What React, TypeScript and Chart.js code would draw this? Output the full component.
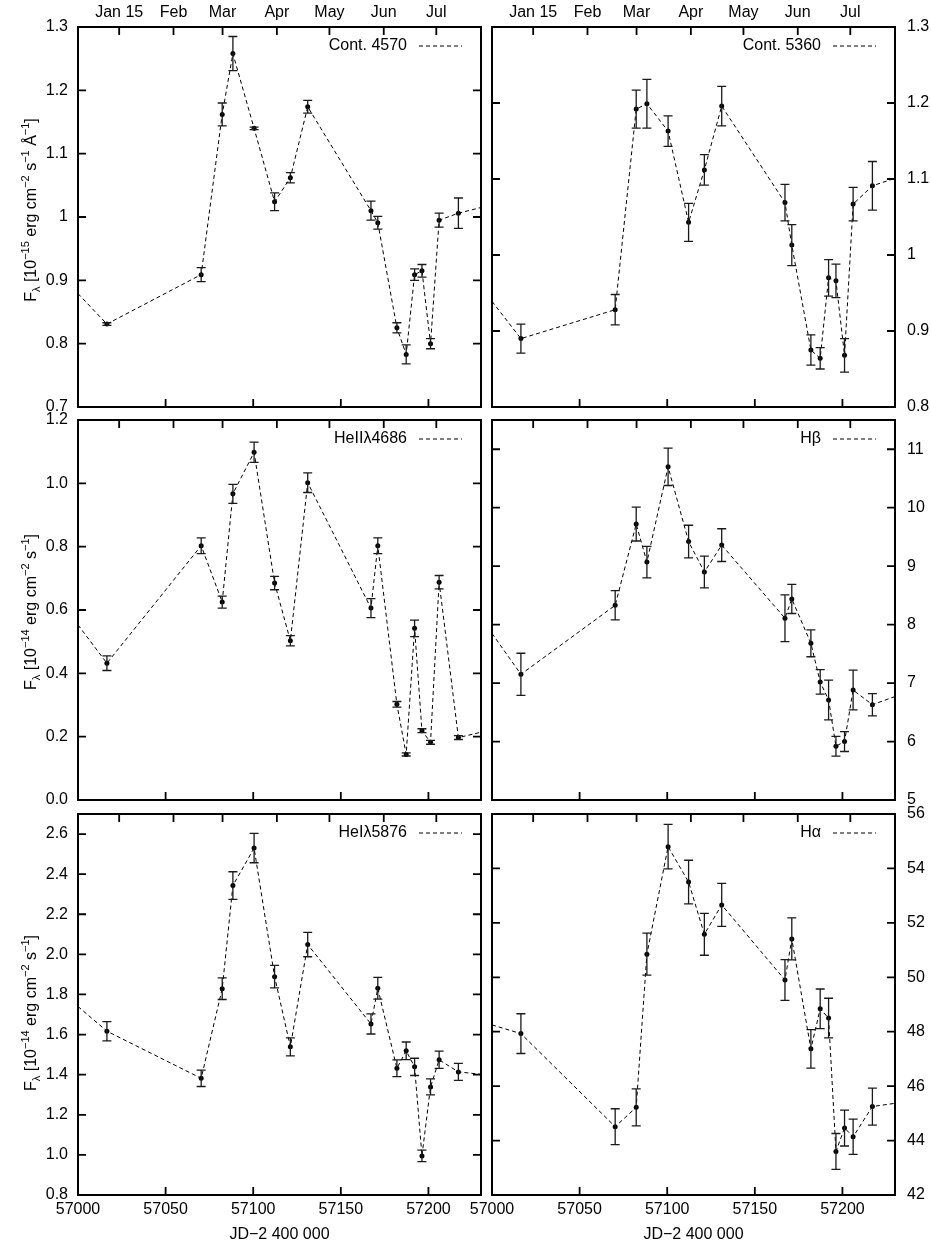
import { useEffect, useRef } from "react";
import { Chart, registerables } from "chart.js";

Chart.register(...registerables);

// epochs of the spectra, JD - 2 400 000
const jd = [
  57016.5, 57070.3, 57082.3, 57088.4, 57100.5, 57112.2, 57121.2, 57131.1, 57167.2,
  57171.1, 57182.0, 57187.3, 57192.1, 57196.3, 57201.2, 57206.1, 57217.1,
];

// continuum 4570 (1e-15 erg cm-2 s-1 A-1)
const cont4570 = [0.831, 0.909, 1.162, 1.258, 1.14, 1.024, 1.062, 1.174, 1.01, 0.991, 0.825, 0.783, 0.909, 0.915, 0.8, 0.995, 1.006];
const cont4570Err = [0.002, 0.011, 0.018, 0.027, 0.002, 0.014, 0.008, 0.01, 0.015, 0.01, 0.008, 0.015, 0.009, 0.01, 0.008, 0.011, 0.024];
const cont4570Edge = [0.879, 1.015]; // where the dashed curve meets the frame

const cont5360 = [0.89, 0.928, 1.192, 1.199, 1.163, 1.043, 1.112, 1.196, 1.069, 1.013, 0.875, 0.864, 0.97, 0.966, 0.868, 1.067, 1.091];
const cont5360Err = [0.019, 0.02, 0.025, 0.032, 0.02, 0.025, 0.02, 0.026, 0.024, 0.027, 0.02, 0.014, 0.024, 0.022, 0.022, 0.022, 0.032];
const cont5360Edge = [0.939, 1.101];

// lines (1e-14 erg cm-2 s-1)
const heII4686 = [0.432, 0.803, 0.625, 0.967, 1.098, 0.685, 0.503, 1.002, 0.606, 0.803, 0.302, 0.144, 0.542, 0.219, 0.182, 0.688, 0.197];
const heII4686Err = [0.023, 0.025, 0.019, 0.03, 0.032, 0.021, 0.016, 0.031, 0.03, 0.025, 0.009, 0.005, 0.026, 0.006, 0.006, 0.021, 0.006];
const heII4686Edge = [0.553, 0.214];

const hBeta = [7.15, 8.33, 9.72, 9.07, 10.7, 9.42, 8.9, 9.36, 8.11, 8.44, 7.68, 7.02, 6.71, 5.92, 6.0, 6.88, 6.63];
const hBetaErr = [0.36, 0.25, 0.29, 0.27, 0.32, 0.28, 0.27, 0.28, 0.4, 0.25, 0.23, 0.21, 0.34, 0.17, 0.17, 0.34, 0.19];
const hBetaEdge = [7.85, 6.77];

const heI5876 = [1.617, 1.382, 1.829, 2.343, 2.53, 1.889, 1.539, 2.049, 1.653, 1.831, 1.432, 1.519, 1.439, 0.995, 1.339, 1.474, 1.414];
const heI5876Err = [0.048, 0.041, 0.054, 0.069, 0.073, 0.056, 0.045, 0.061, 0.05, 0.054, 0.042, 0.044, 0.043, 0.029, 0.04, 0.043, 0.042];
const heI5876Edge = [1.74, 1.402];

const hAlpha = [47.93, 44.51, 45.22, 50.85, 54.8, 53.5, 51.58, 52.66, 49.9, 51.41, 47.37, 48.84, 48.5, 43.6, 44.46, 44.14, 45.25];
const hAlphaErr = [0.73, 0.66, 0.68, 0.77, 0.82, 0.8, 0.77, 0.79, 0.75, 0.77, 0.71, 0.73, 0.73, 0.66, 0.66, 0.65, 0.68];
const hAlphaEdge = [48.25, 45.37];

// axes
const X_MIN = 57000;
const X_MAX = 57230;
const jdTicks = [57000, 57050, 57100, 57150, 57200];
const monthTicks = [57023.5, 57054.5, 57082.5, 57113.5, 57143.5, 57174.5, 57204.5];
const monthLabels = ["Jan 15", "Feb", "Mar", "Apr", "May", "Jun", "Jul"];
const contTicks = [0.7, 0.8, 0.9, 1, 1.1, 1.2, 1.3];
const heIITicks = [0, 0.2, 0.4, 0.6, 0.8, 1.0, 1.2];
const hBetaTicks = [5, 6, 7, 8, 9, 10, 11];
const heITicks = [0.8, 1.0, 1.2, 1.4, 1.6, 1.8, 2.0, 2.2, 2.4, 2.6];
const hAlphaTicks = [42, 44, 46, 48, 50, 52, 54, 56];

// page layout
const W = 931;
const H = 1247;
const COL_X = [[78, 481], [492, 895]];
const ROW_Y = [[27, 407], [420, 800], [814, 1195]];
const Y_TITLE_CY = [210, 612, 1013];
const HB = 30; // bottom axis box
const MONTH_BASE = 17; // baseline of the month labels
const TICK = 8;
const CAP = 4.5;
const FONT = "'Liberation Sans', Arial, Helvetica, sans-serif";

type Run = [string, number]; // text, 0 normal / 1 sup / -1 sub

const title15: Run[] = [
  ["F", 0], ["λ", -1], [" [10", 0], ["−15", 1], [" erg cm", 0], ["−2", 1],
  [" s", 0], ["−1", 1], [" Å", 0], ["−1", 1], ["]", 0],
];
const title14: Run[] = [
  ["F", 0], ["λ", -1], [" [10", 0], ["−14", 1], [" erg cm", 0], ["−2", 1],
  [" s", 0], ["−1", 1], ["]", 0],
];

type PanelSpec = {
  label: string;
  values: number[];
  errs: number[];
  edge: number[];
  yMin: number;
  yMax: number;
  yTicks: number[];
  digits: number; // -1: plain
  col: number;
  row: number;
  title?: Run[];
};

const panels: PanelSpec[] = [
  { label: "Cont. 4570", values: cont4570, errs: cont4570Err, edge: cont4570Edge, yMin: 0.7, yMax: 1.3, yTicks: contTicks, digits: -1, col: 0, row: 0, title: title15 },
  { label: "Cont. 5360", values: cont5360, errs: cont5360Err, edge: cont5360Edge, yMin: 0.8, yMax: 1.3, yTicks: contTicks.slice(1), digits: -1, col: 1, row: 0 },
  { label: "HeIIλ4686", values: heII4686, errs: heII4686Err, edge: heII4686Edge, yMin: 0, yMax: 1.2, yTicks: heIITicks, digits: 1, col: 0, row: 1, title: title14 },
  { label: "Hβ", values: hBeta, errs: hBetaErr, edge: hBetaEdge, yMin: 5, yMax: 11.5, yTicks: hBetaTicks, digits: 0, col: 1, row: 1 },
  { label: "HeIλ5876", values: heI5876, errs: heI5876Err, edge: heI5876Edge, yMin: 0.8, yMax: 2.7, yTicks: heITicks, digits: 1, col: 0, row: 2, title: title14 },
  { label: "Hα", values: hAlpha, errs: hAlphaErr, edge: hAlphaEdge, yMin: 42, yMax: 56, yTicks: hAlphaTicks, digits: 0, col: 1, row: 2 },
];

function drawRuns(ctx: CanvasRenderingContext2D, runs: Run[], cx: number, cy: number) {
  const big = `16px ${FONT}`;
  const small = `11px ${FONT}`;
  const widths = runs.map(([t, k]) => {
    ctx.font = k === 0 ? big : small;
    return ctx.measureText(t).width;
  });
  const total = widths.reduce((a, b) => a + b, 0);
  ctx.save();
  ctx.translate(cx, cy);
  ctx.rotate(-Math.PI / 2);
  ctx.textAlign = "left";
  ctx.textBaseline = "middle";
  ctx.fillStyle = "#000";
  let x = -total / 2;
  runs.forEach(([t, k], i) => {
    ctx.font = k === 0 ? big : small;
    const dy = k === 1 ? -6 : k === -1 ? 5 : 0;
    ctx.fillText(t, x, dy);
    x += widths[i];
  });
  ctx.restore();
}

function decoPlugin(p: PanelSpec) {
  return {
    id: "deco",
    afterDatasetsDraw(chart: any) {
      const { ctx, chartArea: a, scales } = chart;
      const xs = scales.x;
      const ys = scales.y;
      ctx.save();

      // error bars
      ctx.strokeStyle = "#1a1a1a";
      ctx.lineWidth = 1.3;
      ctx.beginPath();
      p.values.forEach((v, i) => {
        const x = xs.getPixelForValue(jd[i]);
        const y1 = ys.getPixelForValue(v - p.errs[i]);
        const y2 = ys.getPixelForValue(v + p.errs[i]);
        ctx.moveTo(x, y1);
        ctx.lineTo(x, y2);
        ctx.moveTo(x - CAP, y1);
        ctx.lineTo(x + CAP, y1);
        ctx.moveTo(x - CAP, y2);
        ctx.lineTo(x + CAP, y2);
      });
      ctx.stroke();

      // frame + inward ticks
      ctx.strokeStyle = "#000";
      ctx.lineWidth = 2;
      ctx.strokeRect(a.left, a.top, a.right - a.left, a.bottom - a.top);
      ctx.lineWidth = 1.8;
      ctx.beginPath();
      p.yTicks.forEach((t) => {
        if (t <= p.yMin || t >= p.yMax) return;
        const y = ys.getPixelForValue(t);
        ctx.moveTo(a.left, y);
        ctx.lineTo(a.left + TICK, y);
        ctx.moveTo(a.right, y);
        ctx.lineTo(a.right - TICK, y);
      });
      jdTicks.forEach((t) => {
        if (t <= X_MIN || t >= X_MAX) return;
        const x = xs.getPixelForValue(t);
        ctx.moveTo(x, a.bottom);
        ctx.lineTo(x, a.bottom - TICK);
      });
      monthTicks.forEach((t) => {
        const x = xs.getPixelForValue(t);
        ctx.moveTo(x, a.top);
        ctx.lineTo(x, a.top + TICK);
      });
      ctx.stroke();

      ctx.font = `16px ${FONT}`;
      ctx.fillStyle = "#000";

      // month labels along the top of the first row
      if (p.row === 0) {
        ctx.textAlign = "center";
        ctx.textBaseline = "alphabetic";
        monthTicks.forEach((t, i) => {
          ctx.fillText(monthLabels[i], xs.getPixelForValue(t), MONTH_BASE);
        });
      }

      // key
      const ky = a.top + 19;
      ctx.textAlign = "right";
      ctx.textBaseline = "middle";
      ctx.fillText(p.label, a.right - 74, ky);
      ctx.lineWidth = 1;
      ctx.setLineDash([4, 3]);
      ctx.beginPath();
      ctx.moveTo(a.right - 62, ky);
      ctx.lineTo(a.right - 19, ky);
      ctx.stroke();
      ctx.setLineDash([]);

      // axis titles
      if (p.title) drawRuns(ctx, p.title, 32, Y_TITLE_CY[p.row]);
      if (p.row === 2) {
        ctx.font = `16px ${FONT}`;
        ctx.textAlign = "center";
        ctx.fillText("JD−2 400 000", (a.left + a.right) / 2, 1235);
      }
      ctx.restore();
    },
  };
}

function buildConfig(p: PanelSpec): any {
  const [left, right] = COL_X[p.col];
  const [top, bottom] = ROW_Y[p.row];
  const yW = p.col === 0 ? 40 : 36;
  const pts = jd.map((x, i) => ({ x, y: p.values[i] }));
  const curve = [{ x: X_MIN, y: p.edge[0] }, ...pts, { x: X_MAX, y: p.edge[1] }];
  const fixed = (vals: number[]) => (s: any) => {
    s.ticks = vals.map((value) => ({ value }));
  };
  const font = { family: FONT, size: 16 };
  const noGrid = { display: false, drawTicks: false };

  return {
    type: "scatter",
    data: {
      datasets: [
        {
          type: "line",
          data: curve,
          borderColor: "#000",
          borderWidth: 1,
          borderDash: [4, 3],
          pointRadius: 0,
          tension: 0,
          fill: false,
          order: 2,
        },
        {
          data: pts,
          pointRadius: 2.5,
          pointBackgroundColor: "#000",
          pointBorderWidth: 0,
          order: 1,
        },
      ],
    },
    options: {
      animation: false,
      responsive: false,
      events: [],
      layout: {
        padding: {
          left: p.col === 0 ? left - yW : left,
          right: p.col === 0 ? W - right : W - right - yW,
          top,
          bottom: H - bottom - HB,
        },
      },
      plugins: { legend: { display: false }, tooltip: { enabled: false } },
      scales: {
        x: {
          type: "linear",
          position: "bottom",
          min: X_MIN,
          max: X_MAX,
          afterBuildTicks: fixed(jdTicks),
          afterFit: (s: any) => { s.height = HB; },
          grid: noGrid,
          border: { display: false },
          ticks: {
            display: p.row === 2,
            padding: 5,
            font,
            color: "#000",
            autoSkip: false,
            maxRotation: 0,
            callback: (v: number) => String(v),
          },
        },
        y: {
          type: "linear",
          position: p.col === 0 ? "left" : "right",
          min: p.yMin,
          max: p.yMax,
          afterBuildTicks: fixed(p.yTicks),
          afterFit: (s: any) => { s.width = yW; },
          grid: noGrid,
          border: { display: false },
          ticks: {
            padding: p.col === 0 ? 10 : 12,
            font,
            color: "#000",
            autoSkip: false,
            callback: (v: number) => (p.digits < 0 ? String(v) : v.toFixed(p.digits)),
          },
        },
      },
    },
    plugins: [decoPlugin(p)],
  };
}

function Panel(props: { spec: PanelSpec }) {
  const { spec } = props;
  const ref = useRef<HTMLCanvasElement | null>(null);

  useEffect(() => {
    if (!ref.current) return;
    const chart = new Chart(ref.current, buildConfig(spec));
    return () => chart.destroy();
  }, [spec]);

  return (
    <canvas
      ref={ref}
      width={W}
      height={H}
      style={{ position: "absolute", left: 0, top: 0, width: W, height: H }}
    />
  );
}

export default function App() {
  return (
    <div
      style={{
        position: "absolute",
        left: 0,
        top: 0,
        width: W,
        height: H,
        overflow: "hidden",
        background: "#fff",
      }}
    >
      {panels.map((p) => (
        <Panel key={p.label} spec={p} />
      ))}
    </div>
  );
}
